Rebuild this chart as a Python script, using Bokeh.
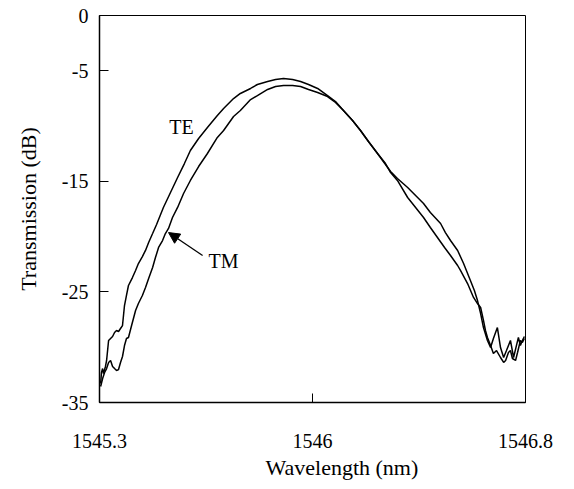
from bokeh.plotting import figure
from bokeh.models import FixedTicker, Title, Arrow, NormalHead, Label
from bokeh.embed import file_html
from bokeh.resources import INLINE

# ---- data ----
te_wl = [1545.304, 1545.307, 1545.311, 1545.314, 1545.321, 1545.325, 1545.332, 1545.339, 1545.346, 1545.353,
         1545.360, 1545.367, 1545.374, 1545.381, 1545.388, 1545.395, 1545.402, 1545.416, 1545.427, 1545.437,
         1545.451, 1545.462, 1545.473, 1545.487, 1545.501, 1545.525, 1545.550, 1545.575, 1545.599, 1545.620,
         1545.649, 1545.680, 1545.715, 1545.737, 1545.772, 1545.796, 1545.832, 1545.856, 1545.892, 1545.920,
         1545.948, 1545.980, 1546.008, 1546.036, 1546.068, 1546.103, 1546.131, 1546.159, 1546.191, 1546.219,
         1546.247, 1546.279, 1546.307, 1546.325, 1546.349, 1546.385, 1546.413, 1546.441, 1546.465, 1546.490,
         1546.515, 1546.536, 1546.561, 1546.571, 1546.596, 1546.617, 1546.631, 1546.642, 1546.652, 1546.659,
         1546.666, 1546.677, 1546.687, 1546.698, 1546.712, 1546.723, 1546.730, 1546.740, 1546.747, 1546.754,
         1546.765, 1546.772, 1546.782, 1546.789, 1546.796]
te_db = [-33.28, -32.29, -31.93, -32.38, -31.74, -31.20, -29.39, -29.21, -29.03, -28.67,
         -28.49, -28.58, -28.31, -28.04, -26.23, -25.32, -24.42, -23.70, -23.06, -22.43,
         -21.80, -21.25, -20.53, -19.72, -18.90, -17.36, -16.01, -14.65, -13.39, -12.21,
         -11.12, -10.13, -9.04, -8.41, -7.51, -7.05, -6.60, -6.24, -5.97, -5.79,
         -5.70, -5.79, -5.97, -6.24, -6.60, -7.24, -7.78, -8.59, -9.50, -10.40,
         -11.40, -12.48, -13.39, -14.20, -14.92, -16.46, -17.36, -18.27, -19.17, -20.08,
         -20.98, -21.71, -22.61, -23.06, -24.24, -25.50, -26.05, -26.41, -27.58, -28.49,
         -29.12, -29.85, -30.57, -30.30, -30.93, -31.38, -31.20, -30.48, -30.30, -31.02,
         -31.20, -30.48, -29.39, -29.57, -29.21]

tm_wl = [1545.304, 1545.311, 1545.318, 1545.325, 1545.332, 1545.339, 1545.346, 1545.353, 1545.360, 1545.367,
         1545.374, 1545.381, 1545.388, 1545.395, 1545.402, 1545.413, 1545.427, 1545.437, 1545.451, 1545.462,
         1545.473, 1545.487, 1545.497, 1545.508, 1545.522, 1545.532, 1545.543, 1545.557, 1545.575, 1545.596,
         1545.620, 1545.649, 1545.680, 1545.715, 1545.737, 1545.772, 1545.796, 1545.832, 1545.856, 1545.892,
         1545.920, 1545.948, 1545.980, 1546.008, 1546.036, 1546.068, 1546.103, 1546.131, 1546.159, 1546.191,
         1546.219, 1546.247, 1546.279, 1546.307, 1546.325, 1546.349, 1546.385, 1546.413, 1546.441, 1546.465,
         1546.501, 1546.518, 1546.536, 1546.561, 1546.582, 1546.606, 1546.620, 1546.631, 1546.642, 1546.652,
         1546.666, 1546.677, 1546.687, 1546.701, 1546.712, 1546.723, 1546.733, 1546.747, 1546.758, 1546.768,
         1546.775, 1546.782, 1546.789, 1546.796]
tm_db = [-33.55, -32.83, -32.29, -31.93, -31.38, -31.20, -31.74, -31.93, -32.11, -32.02,
         -31.38, -30.84, -29.85, -29.21, -29.12, -28.04, -26.68, -26.05, -25.32, -24.60,
         -23.79, -22.79, -21.89, -20.98, -20.35, -19.72, -19.26, -18.27, -17.36, -16.10,
         -14.92, -13.66, -12.48, -11.03, -10.40, -9.13, -8.59, -7.60, -7.24, -6.69,
         -6.42, -6.33, -6.33, -6.42, -6.69, -6.96, -7.33, -7.87, -8.59, -9.50,
         -10.40, -11.40, -12.48, -13.48, -14.11, -14.74, -15.56, -16.28, -17.00, -17.82,
         -18.81, -19.63, -20.35, -21.25, -22.43, -23.97, -24.87, -25.78, -26.95, -28.22,
         -29.39, -30.03, -29.21, -28.22, -30.03, -30.93, -30.30, -29.39, -30.93, -29.85,
         -29.12, -29.85, -29.39, -29.03]

x_ticks = [1545.3, 1546.05, 1546.8]
x_tick_labels = ["1545.3", "1546", "1546.8"]
y_ticks = [0, -5, -15, -25, -35]
y_tick_labels = ["0", "-5", "-15", "-25", "-35"]

te_label_pos = (1545.589, -10.04)
tm_label_pos = (1545.737, -22.16)
arrow_tail = (1545.663, -21.7)
arrow_tip = (1545.543, -19.63)

FONT = "Liberation Serif"

p = figure(frame_width=426, frame_height=387,
           x_range=(1545.3, 1546.8), y_range=(-35, 0),
           output_backend="svg", toolbar_location=None,
           min_border_left=99, min_border_top=15, min_border_right=45, min_border_bottom=80)
p.background_fill_color = "white"
p.border_fill_color = "white"
p.outline_line_color = "black"
p.outline_line_width = 1
p.xgrid.visible = False
p.ygrid.visible = False

p.line(te_wl, te_db, line_color="black", line_width=1.5)
p.line(tm_wl, tm_db, line_color="black", line_width=1.5)

# axes
p.xaxis.ticker = FixedTicker(ticks=x_ticks)
p.xaxis.major_label_overrides = {t: s for t, s in zip(x_ticks, x_tick_labels)}
p.yaxis.ticker = FixedTicker(ticks=y_ticks)
p.yaxis.major_label_overrides = {t: s for t, s in zip(y_ticks, y_tick_labels)}
for ax in (p.xaxis, p.yaxis):
    ax.minor_tick_line_color = None
    ax.major_tick_in = 9
    ax.major_tick_out = 0
    ax.axis_line_color = "black"
    ax.axis_line_width = 1.5
    ax.major_tick_line_color = "black"
    ax.major_label_text_font = FONT
    ax.major_label_text_font_size = "20px"
    ax.major_label_text_color = "black"
p.xaxis.major_label_standoff = 31
p.yaxis.major_label_standoff = 11

p.yaxis.axis_label = "Transmission (dB)"
p.yaxis.axis_label_text_font = FONT
p.yaxis.axis_label_text_font_size = "22px"
p.yaxis.axis_label_text_font_style = "normal"
p.yaxis.axis_label_text_color = "black"
p.yaxis.axis_label_standoff = 18

p.add_layout(Title(text="Wavelength (nm)", align="left", offset=166, standoff=4,
                   text_font=FONT, text_font_size="22px", text_font_style="normal",
                   text_color="black"), "below")

# annotations
p.add_layout(Label(x=te_label_pos[0], y=te_label_pos[1], text="TE", text_font=FONT,
                   text_font_size="20px", text_align="center", text_baseline="middle",
                   text_color="black"))
p.add_layout(Label(x=tm_label_pos[0], y=tm_label_pos[1], text="TM", text_font=FONT,
                   text_font_size="20px", text_align="center", text_baseline="middle",
                   text_color="black"))
p.add_layout(Arrow(x_start=arrow_tail[0], y_start=arrow_tail[1], x_end=arrow_tip[0], y_end=arrow_tip[1],
                   line_color="black", line_width=1.3,
                   end=NormalHead(size=11, fill_color="black", line_color="black")))

open("out.html", "w").write(file_html(p, INLINE))
